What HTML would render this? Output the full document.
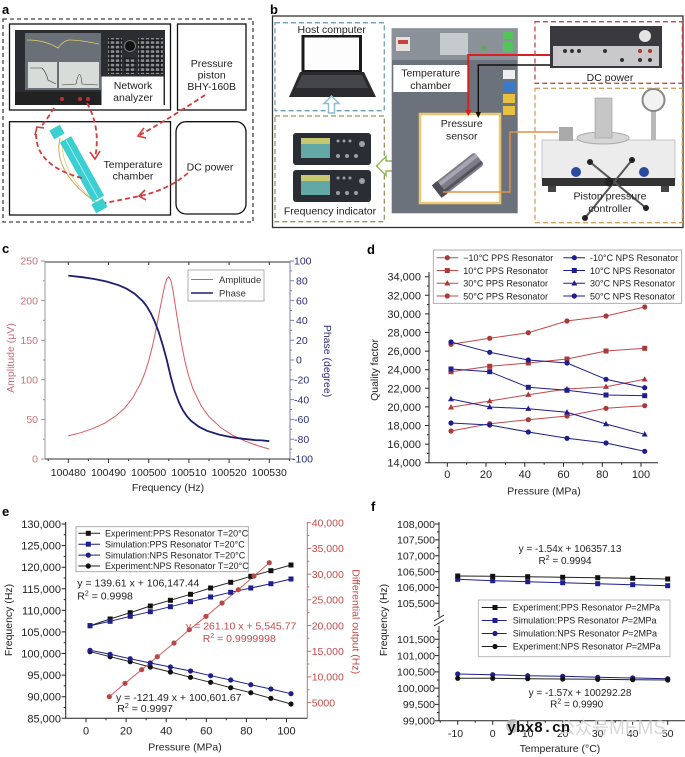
<!DOCTYPE html>
<html>
<head>
<meta charset="utf-8">
<style>
html,body{margin:0;padding:0;background:#fff;}
svg{display:block;font-family:"Liberation Sans",Arial,sans-serif;}
</style>
</head>
<body>
<svg width="685" height="757" viewBox="0 0 685 757" xmlns="http://www.w3.org/2000/svg">
<defs>
  <rect id="sq" x="-2.5" y="-2.5" width="5" height="5"/>
  <circle id="ci" r="2.6"/>
  <path id="tr" d="M0,-3.2 L3,2.2 L-3,2.2Z"/>
  <pattern id="keys" x="0" y="0" width="5" height="4.5" patternUnits="userSpaceOnUse">
    <rect x="0" y="0" width="5" height="4.5" fill="#1c1c1e"/>
    <rect x="0.8" y="0.8" width="3.4" height="2.6" fill="#8a8d92"/>
  </pattern>
</defs>
<rect width="685" height="757" fill="#fff"/>

<!-- ================= PANEL A ================= -->
<text x="2" y="14" font-size="13" font-weight="bold">a</text>
<rect x="3" y="19" width="250" height="203" fill="none" stroke="#444" stroke-width="1.3" stroke-dasharray="4,3"/>
<rect x="9.5" y="24" width="161" height="86" fill="#fff" stroke="#111" stroke-width="1.3"/>
<!-- analyzer photo -->
<rect x="15" y="30" width="150" height="75" fill="#2c2d30"/>
<rect x="25" y="33" width="76" height="57" fill="#6a7078"/>
<path d="M27 40 Q45 40 58 48 Q64 40 70 40 Q80 40 99 44" fill="none" stroke="#e8d060" stroke-width="0.8"/>
<rect x="28" y="62" width="29" height="26" fill="#d8dcd8"/>
<rect x="59" y="62" width="40" height="26" fill="#d8dcd8"/>
<path d="M30 68 L42 68 Q46 72 48 80 L56 84" fill="none" stroke="#333" stroke-width="0.6"/>
<path d="M62 85 L76 84 Q80 65 82 84 L98 85" fill="none" stroke="#333" stroke-width="0.6"/>
<rect x="108" y="38" width="14" height="36" fill="url(#keys)"/>
<rect x="138" y="38" width="25" height="36" fill="url(#keys)"/>
<rect x="124" y="58" width="12" height="16" fill="url(#keys)"/>
<circle cx="130" cy="46" r="5.5" fill="#111" stroke="#777" stroke-width="1"/>
<rect x="15" y="92" width="87" height="13" fill="#222"/>
<circle cx="62" cy="99" r="2" fill="#c03030"/>
<circle cx="80" cy="99" r="2" fill="#c03030"/>
<circle cx="88" cy="99" r="2" fill="#c03030"/>
<rect x="101.5" y="76.5" width="62" height="28.5" fill="#fff"/>
<text x="133" y="89" font-size="10.5" text-anchor="middle" fill="#222">Network</text>
<text x="133" y="101" font-size="10.5" text-anchor="middle" fill="#222">analyzer</text>
<!-- pressure piston -->
<rect x="177.5" y="24" width="68.5" height="86" fill="#fff" stroke="#111" stroke-width="1.3"/>
<text x="211.7" y="67" font-size="10.5" text-anchor="middle" fill="#222">Pressure</text>
<text x="211.7" y="78.5" font-size="10.5" text-anchor="middle" fill="#222">piston</text>
<text x="211.7" y="90" font-size="10.5" text-anchor="middle" fill="#222">BHY-160B</text>
<!-- temperature chamber -->
<rect x="9.5" y="121.7" width="161" height="93.3" fill="#fff" stroke="#111" stroke-width="1.3"/>
<text x="133" y="168" font-size="10.5" text-anchor="middle" fill="#222">Temperature</text>
<text x="133" y="179.5" font-size="10.5" text-anchor="middle" fill="#222">chamber</text>
<!-- DC power -->
<rect x="176" y="121.7" width="70" height="92.3" rx="10" fill="#fff" stroke="#111" stroke-width="1.3"/>
<text x="210" y="170.5" font-size="10.5" text-anchor="middle" fill="#222">DC power</text>
<!-- cyan device -->
<path d="M60 138 Q52 172 98 204" fill="none" stroke="#c9a04a" stroke-width="0.9"/>
<path d="M62 138 Q60 176 100 205" fill="none" stroke="#e0c860" stroke-width="0.7"/>
<g transform="rotate(-29 82 169)">
  <rect x="75.5" y="135" width="13" height="68" fill="#3ccfd2"/>
  <line x1="82" y1="136" x2="82" y2="202" stroke="#b8f4f4" stroke-width="0.8"/>
</g>
<rect x="51" y="127" width="12" height="10" fill="#3ccfd2" transform="rotate(-29 57 132)"/>
<rect x="93" y="201" width="13" height="10" fill="#3ccfd2" transform="rotate(-29 99 206)"/>
<!-- red dashed arrows -->
<g fill="none" stroke="#d43c3c" stroke-width="1.8" stroke-dasharray="5,3">
  <path d="M54 108 Q48 118 40 128"/>
  <path d="M36 134 Q36 166 82 178"/>
  <path d="M87 103 Q101 128 95 158"/>
  <path d="M205 95 Q175 115 140 135"/>
  <path d="M188 173 Q168 190 140 196 L105 203"/>
</g>
<g fill="none" stroke="#d43c3c" stroke-width="1.6">
  <path d="M35 135 L37 127 L44 128"/>
  <path d="M90 152 L95 159 L100 151"/>
  <path d="M144 128 L138 136 L146 138"/>
  <path d="M145 190 L139 196 L146 200"/>
</g>

<!-- ================= PANEL B ================= -->
<text x="270" y="14" font-size="13" font-weight="bold">b</text>
<rect x="272.5" y="16" width="410.5" height="211.5" fill="#fff" stroke="#333" stroke-width="1.3"/>
<!-- host computer -->
<rect x="275" y="22.7" width="109.3" height="88" fill="none" stroke="#6f9fb8" stroke-width="1.3" stroke-dasharray="5,3"/>
<text x="331.7" y="33" font-size="10.5" text-anchor="middle" fill="#222">Host computer</text>
<rect x="301.5" y="35" width="60.5" height="37" fill="#1a1a1a"/>
<rect x="304.5" y="37.5" width="54.5" height="32.5" fill="#fdfdfd"/>
<path d="M300 72 L364 72 L376 97 L289 97Z" fill="#2a2a2e"/>
<path d="M302 75 L362 75 L368 88 L296 88Z" fill="#45464a"/>
<!-- up arrow -->
<path d="M328.5 113 L328.5 103.5 L324 103.5 L331.5 96 L339 103.5 L334.5 103.5 L334.5 113Z" fill="#fff" stroke="#8fbcd4" stroke-width="1.5"/>
<!-- frequency indicator -->
<rect x="275" y="116" width="109.3" height="105.7" fill="none" stroke="#8c9a60" stroke-width="1.3" stroke-dasharray="5,3"/>
<text x="330" y="214.5" font-size="10.5" text-anchor="middle" fill="#222">Frequency indicator</text>
<rect x="293" y="133" width="78" height="32" rx="3" fill="#2a2e34"/>
<rect x="301" y="138" width="29" height="20" fill="#62a8a6"/>
<rect x="301" y="138" width="29" height="6" fill="#c8c870"/>
<rect x="293" y="170" width="78" height="32" rx="3" fill="#2a2e34"/>
<rect x="301" y="175" width="29" height="20" fill="#62a8a6"/>
<rect x="301" y="175" width="29" height="6" fill="#c8c870"/>
<g fill="#9aa0a6">
  <circle cx="338" cy="141" r="1.5"/><circle cx="344" cy="141" r="1.5"/><circle cx="350" cy="141" r="1.5"/><circle cx="362" cy="144" r="3"/>
  <circle cx="338" cy="156" r="2"/><circle cx="347" cy="156" r="2"/><circle cx="356" cy="156" r="2"/>
  <circle cx="338" cy="178" r="1.5"/><circle cx="344" cy="178" r="1.5"/><circle cx="350" cy="178" r="1.5"/><circle cx="362" cy="181" r="3"/>
  <circle cx="338" cy="193" r="2"/><circle cx="347" cy="193" r="2"/><circle cx="356" cy="193" r="2"/>
</g>
<!-- left arrow -->
<path d="M433 161 L386 161 L386 156.5 L376.5 166 L386 175.5 L386 171 L433 171Z" fill="#fff" stroke="#90b858" stroke-width="1.5"/>
<!-- temperature chamber -->
<rect x="391.7" y="28.3" width="126" height="185" fill="#6b727c"/>
<rect x="391.7" y="28.3" width="126" height="31.7" fill="#8b9199"/>
<rect x="440" y="33" width="28" height="22" fill="#c5cacd"/>
<rect x="396" y="37" width="14" height="14" fill="#e8e0dc"/>
<rect x="398" y="40" width="10" height="4" fill="#c84040"/>
<rect x="503" y="32" width="10" height="7" fill="#52c45a"/>
<rect x="503" y="42" width="10" height="10" fill="#52c45a"/>
<circle cx="484" cy="48" r="2.5" fill="#5a5"/>
<rect x="503" y="70" width="12" height="9" fill="#eee"/>
<rect x="503" y="82" width="12" height="9" fill="#3a7ac8"/>
<rect x="503" y="94" width="12" height="9" fill="#e8c040"/>
<rect x="503" y="106" width="12" height="9" fill="#e8c040"/>
<rect x="393.3" y="65" width="75" height="27" fill="#fff"/>
<text x="430.7" y="76.5" font-size="10.5" text-anchor="middle" fill="#222">Temperature</text>
<text x="430.7" y="89" font-size="10.5" text-anchor="middle" fill="#222">chamber</text>
<rect x="420" y="114" width="80" height="89" fill="#fff" stroke="#ecc872" stroke-width="2.5"/>
<text x="461.7" y="127" font-size="10.5" text-anchor="middle" fill="#222">Pressure</text>
<text x="461.7" y="139.5" font-size="10.5" text-anchor="middle" fill="#222">sensor</text>
<g transform="rotate(-38 458 175)">
  <rect x="431" y="167" width="54" height="16" rx="3" fill="#7e7c88"/>
  <rect x="431" y="169" width="54" height="4" fill="#a8a6b2"/>
  <rect x="431" y="178" width="54" height="3" fill="#55535e"/>
  <rect x="431" y="167" width="7" height="16" fill="#4e4c56"/>
</g>
<!-- wires -->
<polyline points="443,192 510,192 510,132 558,132" fill="none" stroke="#e0904a" stroke-width="1.5"/>
<polyline points="468.3,114 468.3,55 658,55" fill="none" stroke="#d82020" stroke-width="2"/>
<polyline points="478.3,116 478.3,65 635,65" fill="none" stroke="#111" stroke-width="1.4"/>
<path d="M465 110 L468.3 116 L471.6 110Z" fill="#d82020"/>
<path d="M475.5 112 L478.3 118 L481 112Z" fill="#111"/>
<!-- DC power -->
<rect x="535" y="21.7" width="147.3" height="61.6" fill="none" stroke="#c84848" stroke-width="1.3" stroke-dasharray="5,3"/>
<rect x="550" y="26" width="112" height="42" fill="#3a3a3e"/>
<rect x="553" y="46" width="106" height="20" fill="#c9c9cb"/>
<circle cx="645" cy="36" r="6" fill="#e4e4e4"/>
<g fill="#333"><circle cx="565" cy="51" r="2"/><circle cx="572" cy="51" r="2"/><circle cx="579" cy="51" r="2"/><circle cx="605" cy="51" r="2"/><circle cx="622" cy="60" r="2"/><circle cx="640" cy="60" r="2"/><circle cx="650" cy="60" r="2"/></g>
<g fill="#b83030"><circle cx="640" cy="51" r="2"/><circle cx="650" cy="51" r="2"/></g>
<text x="610" y="81" font-size="10.5" text-anchor="middle" fill="#222">DC power</text>
<!-- piston controller -->
<rect x="535" y="88.3" width="147.3" height="134.4" fill="none" stroke="#d4a060" stroke-width="1.3" stroke-dasharray="5,3"/>
<rect x="542" y="140" width="133" height="40" fill="#ececec" stroke="#c4c4c4"/>
<rect x="542" y="178" width="133" height="8" fill="#333"/>
<rect x="548" y="186" width="8" height="6" fill="#444"/>
<rect x="661" y="186" width="8" height="6" fill="#444"/>
<ellipse cx="603" cy="138" rx="26" ry="6" fill="#d6d6d6" stroke="#aaa"/>
<rect x="595" y="98" width="17" height="40" fill="#c6c6c6" stroke="#999" stroke-width="0.6"/>
<rect x="651" y="110" width="5" height="30" fill="#b8b8b8"/>
<circle cx="653.5" cy="100" r="11" fill="#f2f2f2" stroke="#888" stroke-width="2"/>
<rect x="559" y="127" width="14" height="14" fill="#aaa"/>
<circle cx="576" cy="172" r="5" fill="#2a4aa0"/>
<circle cx="644" cy="172" r="5" fill="#2a4aa0"/>
<g stroke="#555" stroke-width="2">
  <line x1="585" y1="218" x2="632" y2="160"/>
  <line x1="590" y1="162" x2="646" y2="208"/>
</g>
<g fill="#222"><circle cx="632" cy="160" r="3"/><circle cx="590" cy="162" r="3"/><circle cx="646" cy="208" r="3"/><circle cx="585" cy="218" r="3"/><circle cx="609" cy="182" r="4.5"/></g>
<text x="610" y="199.5" font-size="10.5" text-anchor="middle" fill="#222">Piston pressure</text>
<text x="610" y="212" font-size="10.5" text-anchor="middle" fill="#222">controller</text>

<!-- ================= PANEL C ================= -->
<text x="2" y="253" font-size="13" font-weight="bold">c</text>
<line x1="45" y1="262" x2="290" y2="262" stroke="#333" stroke-width="1"/>
<line x1="45" y1="459" x2="290" y2="459" stroke="#333" stroke-width="1"/>
<line x1="45" y1="261" x2="45" y2="459" stroke="#999" stroke-width="1"/>
<line x1="290" y1="261" x2="290" y2="459" stroke="#8080a8" stroke-width="1"/>
<path d="M45 261h-4M45 300.6h-4M45 340.2h-4M45 379.8h-4M45 419.4h-4M45 459h-4M45 280.8h-2M45 320.4h-2M45 360h-2M45 399.6h-2M45 439.2h-2" stroke="#999" stroke-width="1"/>
<path d="M290 261h4M290 280.8h4M290 300.6h4M290 320.4h4M290 340.2h4M290 360h4M290 379.8h4M290 399.6h4M290 419.4h4M290 439.2h4M290 459h4M290 270.9h2M290 290.7h2M290 310.5h2M290 330.3h2M290 350.1h2M290 369.9h2M290 389.7h2M290 409.5h2M290 429.3h2M290 449.1h2" stroke="#8080a8" stroke-width="1"/>
<path d="M68.3 459v4M108.5 459v4M148.7 459v4M188.9 459v4M229.1 459v4M269.3 459v4M48.2 459v2M88.4 459v2M128.6 459v2M168.8 459v2M209 459v2M249.2 459v2M289.4 459v2M68.3 262v3M108.5 262v3M148.7 262v3M188.9 262v3M229.1 262v3M269.3 262v3" stroke="#333" stroke-width="1"/>
<g font-size="10.5" fill="#c77079" text-anchor="end">
  <text x="38" y="264.7">250</text><text x="38" y="304.3">200</text><text x="38" y="343.9">150</text><text x="38" y="383.5">100</text><text x="38" y="423.1">50</text><text x="38" y="462.7">0</text>
</g>
<g font-size="10.5" fill="#2b2b7a">
  <text x="294" y="264.7">100</text><text x="296" y="284.5">80</text><text x="296" y="304.3">60</text><text x="296" y="324.1">40</text><text x="296" y="343.9">20</text><text x="296" y="363.7">0</text><text x="294" y="383.5">-20</text><text x="294" y="403.3">-40</text><text x="294" y="423.1">-60</text><text x="294" y="442.9">-80</text><text x="292" y="462.7">-100</text>
</g>
<g font-size="10.5" fill="#222" text-anchor="middle">
  <text x="68.3" y="476">100480</text><text x="108.5" y="476">100490</text><text x="148.7" y="476">100500</text><text x="188.9" y="476">100510</text><text x="229.1" y="476">100520</text><text x="269.3" y="476">100530</text>
</g>
<text x="168" y="491" font-size="10.5" fill="#222" text-anchor="middle">Frequency (Hz)</text>
<text transform="translate(14,358) rotate(-90)" font-size="10.5" fill="#c77079" text-anchor="middle">Amplitude (μV)</text>
<text transform="translate(324,361) rotate(90)" font-size="10.5" fill="#2b2b7a" text-anchor="middle">Phase (degree)</text>
<polyline fill="none" stroke="#d9595f" stroke-width="1" points="68.3,435.9 80.4,432.8 92.4,428.7 104.5,423.3 116.5,415.4 124.6,408.2 132.6,398.0 140.7,383.3 144.7,373.3 148.7,360.8 152.7,345.2 156.7,326.1 160.8,304.5 164.8,285.2 166.8,279.1 168.8,276.8 170.8,280.2 172.8,289.4 176.8,315.3 180.9,340.8 184.9,361.2 188.9,376.7 192.9,388.7 201.0,405.5 209.0,416.7 221.1,427.9 233.1,435.5 245.2,441.1 257.2,445.5 269.3,449.1"/>
<polyline fill="none" stroke="#1e1e6e" stroke-width="1.8" points="68.3,275.6 82.4,277.2 94.4,279.0 106.5,281.5 118.6,285.2 126.6,288.7 134.6,293.7 142.7,301.1 146.7,306.3 150.7,313.0 154.7,321.5 158.8,332.3 162.8,345.3 166.8,360 170.8,377.0 174.8,391.4 178.9,402.3 182.9,410.3 186.9,416.2 190.9,420.7 199.0,426.8 207.0,430.8 219.1,434.6 231.1,437.1 243.2,438.8 255.2,440.1 262,440.4 269.3,441.2"/>
<rect x="188" y="270" width="76" height="31" fill="#fff" stroke="#999" stroke-width="0.8"/>
<line x1="191" y1="279.5" x2="213" y2="279.5" stroke="#d9595f" stroke-width="1"/>
<line x1="191" y1="293" x2="213" y2="293" stroke="#1e1e6e" stroke-width="1.6"/>
<text x="219" y="283" font-size="9.5" fill="#333">Amplitude</text>
<text x="219" y="296.5" font-size="9.5" fill="#333">Phase</text>

<!-- ================= PANEL D ================= -->
<text x="367" y="254" font-size="13" font-weight="bold">d</text>
<line x1="429" y1="272" x2="429" y2="462.7" stroke="#222" stroke-width="1"/>
<line x1="429" y1="462.7" x2="658" y2="462.7" stroke="#222" stroke-width="1"/>
<path d="M429 276.7h-4M429 295.3h-4M429 313.9h-4M429 332.5h-4M429 351.1h-4M429 369.7h-4M429 388.3h-4M429 406.9h-4M429 425.5h-4M429 444.1h-4M429 462.7h-4M429 286h-2M429 304.6h-2M429 323.2h-2M429 341.8h-2M429 360.4h-2M429 379h-2M429 397.6h-2M429 416.2h-2M429 434.8h-2M429 453.4h-2" stroke="#222" stroke-width="1"/>
<path d="M447.3 462.7v4M486 462.7v4M524.8 462.7v4M563.5 462.7v4M602.3 462.7v4M641 462.7v4M466.7 462.7v2M505.4 462.7v2M544.2 462.7v2M582.9 462.7v2M621.7 462.7v2" stroke="#222" stroke-width="1"/>
<g font-size="11" fill="#222" text-anchor="end">
  <text x="421" y="280.7">34,000</text><text x="421" y="299.3">32,000</text><text x="421" y="317.9">30,000</text><text x="421" y="336.5">28,000</text><text x="421" y="355.1">26,000</text><text x="421" y="373.7">24,000</text><text x="421" y="392.3">22,000</text><text x="421" y="410.9">20,000</text><text x="421" y="429.5">18,000</text><text x="421" y="448.1">16,000</text><text x="421" y="466.7">14,000</text>
</g>
<g font-size="11" fill="#222" text-anchor="middle">
  <text x="447.3" y="478">0</text><text x="486" y="478">20</text><text x="524.8" y="478">40</text><text x="563.5" y="478">60</text><text x="602.3" y="478">80</text><text x="641" y="478">100</text>
</g>
<text x="544" y="494.5" font-size="10.5" fill="#222" text-anchor="middle">Pressure (MPa)</text>
<text transform="translate(378,370) rotate(-90)" font-size="10.5" fill="#222" text-anchor="middle">Quality factor</text>
<!-- series d -->
<g fill="none" stroke-width="1">
  <polyline stroke="#c04a4a" points="451,344.3 489.7,338.3 528.3,332.7 567,321 606,316 644.7,307"/>
  <polyline stroke="#c04a4a" points="451,371.7 489.7,366.3 528.3,363 567,359 606,351 644.7,348.3"/>
  <polyline stroke="#c04a4a" points="451,407.3 489.7,401 528.3,394.7 567,389 606,386.7 644.7,379.3"/>
  <polyline stroke="#c04a4a" points="451,431 489.7,423.7 528.3,419.7 567,416 606,408.3 644.7,405.7"/>
  <polyline stroke="#1e1e8c" points="451,342 489.7,352.3 528.3,360 567,363 606,379.3 644.7,387.7"/>
  <polyline stroke="#1e1e8c" points="451,369 489.7,371.7 528.3,387.3 567,390.3 606,395 644.7,395.7"/>
  <polyline stroke="#1e1e8c" points="451,399 489.7,407 528.3,408.7 567,412.3 606,424 644.7,434.3"/>
  <polyline stroke="#1e1e8c" points="451,423 489.7,425 528.3,432 567,438.3 606,443 644.7,451.3"/>
</g>
<g fill="#a83a3a">
  <use href="#ci" x="451" y="344.3"/><use href="#ci" x="489.7" y="338.3"/><use href="#ci" x="528.3" y="332.7"/><use href="#ci" x="567" y="321"/><use href="#ci" x="606" y="316"/><use href="#ci" x="644.7" y="307"/>
  <use href="#sq" x="451" y="371.7"/><use href="#sq" x="489.7" y="366.3"/><use href="#sq" x="528.3" y="363"/><use href="#sq" x="567" y="359"/><use href="#sq" x="606" y="351"/><use href="#sq" x="644.7" y="348.3"/>
  <use href="#tr" x="451" y="407.3"/><use href="#tr" x="489.7" y="401"/><use href="#tr" x="528.3" y="394.7"/><use href="#tr" x="567" y="389"/><use href="#tr" x="606" y="386.7"/><use href="#tr" x="644.7" y="379.3"/>
  <use href="#ci" x="451" y="431"/><use href="#ci" x="489.7" y="423.7"/><use href="#ci" x="528.3" y="419.7"/><use href="#ci" x="567" y="416"/><use href="#ci" x="606" y="408.3"/><use href="#ci" x="644.7" y="405.7"/>
</g>
<g fill="#1e1e8c">
  <use href="#ci" x="451" y="342"/><use href="#ci" x="489.7" y="352.3"/><use href="#ci" x="528.3" y="360"/><use href="#ci" x="567" y="363"/><use href="#ci" x="606" y="379.3"/><use href="#ci" x="644.7" y="387.7"/>
  <use href="#sq" x="451" y="369"/><use href="#sq" x="489.7" y="371.7"/><use href="#sq" x="528.3" y="387.3"/><use href="#sq" x="567" y="390.3"/><use href="#sq" x="606" y="395"/><use href="#sq" x="644.7" y="395.7"/>
  <use href="#tr" x="451" y="399"/><use href="#tr" x="489.7" y="407"/><use href="#tr" x="528.3" y="408.7"/><use href="#tr" x="567" y="412.3"/><use href="#tr" x="606" y="424"/><use href="#tr" x="644.7" y="434.3"/>
  <use href="#ci" x="451" y="423"/><use href="#ci" x="489.7" y="425"/><use href="#ci" x="528.3" y="432"/><use href="#ci" x="567" y="438.3"/><use href="#ci" x="606" y="443"/><use href="#ci" x="644.7" y="451.3"/>
</g>
<!-- legend d -->
<rect x="433.3" y="250" width="248.4" height="53.3" fill="#fff" stroke="#999" stroke-width="0.8"/>
<g stroke-width="1">
  <line x1="436.7" y1="257.7" x2="458.3" y2="257.7" stroke="#c04a4a"/>
  <line x1="436.7" y1="270.5" x2="458.3" y2="270.5" stroke="#c04a4a"/>
  <line x1="436.7" y1="283.3" x2="458.3" y2="283.3" stroke="#c04a4a"/>
  <line x1="436.7" y1="296" x2="458.3" y2="296" stroke="#c04a4a"/>
  <line x1="563.3" y1="257.7" x2="585" y2="257.7" stroke="#1e1e8c"/>
  <line x1="563.3" y1="270.5" x2="585" y2="270.5" stroke="#1e1e8c"/>
  <line x1="563.3" y1="283.3" x2="585" y2="283.3" stroke="#1e1e8c"/>
  <line x1="563.3" y1="296" x2="585" y2="296" stroke="#1e1e8c"/>
</g>
<g fill="#a83a3a"><use href="#ci" x="447.3" y="257.7"/><use href="#sq" x="447.3" y="270.5"/><use href="#tr" x="447.3" y="283.3"/><use href="#ci" x="447.3" y="296"/></g>
<g fill="#1e1e8c"><use href="#ci" x="574.3" y="257.7"/><use href="#sq" x="574.3" y="270.5"/><use href="#tr" x="574.3" y="283.3"/><use href="#ci" x="574.3" y="296"/></g>
<g font-size="9" fill="#222">
  <text x="463.3" y="261">−10°C PPS Resonator</text>
  <text x="463.3" y="273.8">10°C PPS Resonator</text>
  <text x="463.3" y="286.6">30°C PPS Resonator</text>
  <text x="463.3" y="299.3">50°C PPS Resonator</text>
  <text x="590" y="261">-10°C NPS Resonator</text>
  <text x="590" y="273.8">10°C NPS Resonator</text>
  <text x="590" y="286.6">30°C NPS Resonator</text>
  <text x="590" y="299.3">50°C NPS Resonator</text>
</g>

<!-- ================= PANEL E ================= -->
<text x="2" y="516" font-size="13" font-weight="bold">e</text>
<line x1="65.7" y1="522" x2="65.7" y2="718.3" stroke="#222" stroke-width="1"/>
<line x1="65.7" y1="718.3" x2="307.3" y2="718.3" stroke="#222" stroke-width="1"/>
<line x1="307.3" y1="522" x2="307.3" y2="718.3" stroke="#b07a7a" stroke-width="1"/>
<path d="M65.7 524h-4M65.7 545.6h-4M65.7 567.2h-4M65.7 588.8h-4M65.7 610.4h-4M65.7 631.9h-4M65.7 653.5h-4M65.7 675.1h-4M65.7 696.7h-4M65.7 718.3h-4M65.7 534.8h-2M65.7 556.4h-2M65.7 578h-2M65.7 599.6h-2M65.7 621.1h-2M65.7 642.7h-2M65.7 664.3h-2M65.7 685.9h-2M65.7 707.5h-2" stroke="#222" stroke-width="1"/>
<path d="M307.3 522.7h4M307.3 548.4h4M307.3 574.1h4M307.3 599.8h4M307.3 625.5h4M307.3 651.2h4M307.3 676.9h4M307.3 702.6h4M307.3 535.5h2M307.3 561.2h2M307.3 586.9h2M307.3 612.6h2M307.3 638.3h2M307.3 664h2M307.3 689.7h2" stroke="#b07a7a" stroke-width="1"/>
<path d="M86 718.3v4M126.1 718.3v4M166.2 718.3v4M206.3 718.3v4M246.4 718.3v4M286.5 718.3v4M106 718.3v2M146.1 718.3v2M186.2 718.3v2M226.3 718.3v2M266.4 718.3v2" stroke="#222" stroke-width="1"/>
<g font-size="11" fill="#222" text-anchor="end">
  <text x="61" y="528">130,000</text><text x="61" y="549.6">125,000</text><text x="61" y="571.2">120,000</text><text x="61" y="592.8">115,000</text><text x="61" y="614.4">110,000</text><text x="61" y="635.9">105,000</text><text x="61" y="657.5">100,000</text><text x="61" y="679.1">95,000</text><text x="61" y="700.7">90,000</text><text x="61" y="722.3">85,000</text>
</g>
<g font-size="10.5" fill="#c44a4a">
  <text x="311.7" y="526.5">40,000</text><text x="311.7" y="552.2">35,000</text><text x="311.7" y="577.9">30,000</text><text x="311.7" y="603.6">25,000</text><text x="311.7" y="629.3">20,000</text><text x="311.7" y="655">15,000</text><text x="311.7" y="680.7">10,000</text><text x="311.7" y="706.4">5000</text>
</g>
<g font-size="11" fill="#222" text-anchor="middle">
  <text x="86" y="734.5">0</text><text x="126.1" y="734.5">20</text><text x="166.2" y="734.5">40</text><text x="206.3" y="734.5">60</text><text x="246.4" y="734.5">80</text><text x="286.5" y="734.5">100</text>
</g>
<text x="185" y="750.5" font-size="10.5" fill="#222" text-anchor="middle">Pressure (MPa)</text>
<text transform="translate(12,620) rotate(-90)" font-size="10.5" fill="#222" text-anchor="middle">Frequency (Hz)</text>
<text transform="translate(352.5,621.7) rotate(90)" font-size="10.5" fill="#c44a4a" text-anchor="middle">Differential output (Hz)</text>
<!-- series e -->
<g fill="none" stroke-width="1">
  <polyline stroke="#222" points="90,625.7 110.1,619 130.2,612.7 150.3,606 170.4,600.3 190.5,594.3 210.6,588 230.7,582.3 250.8,576.3 270.9,570.7 291,565"/>
  <polyline stroke="#1e1e8c" points="90,625.7 110.1,621.3 130.2,616.3 150.3,611.7 170.4,606.7 190.5,601.7 210.6,597 230.7,592.3 250.8,588 270.9,583.7 291,579"/>
  <polyline stroke="#1e1e8c" points="90,650.3 110.1,654.3 130.2,658.7 150.3,663 170.4,667 190.5,671 210.6,675.7 230.7,680 250.8,684.7 270.9,689 291,693.7"/>
  <polyline stroke="#222" points="90,651.7 110.1,656.7 130.2,661.7 150.3,667 170.4,672 190.5,677.3 210.6,682.3 230.7,687.7 250.8,692.7 270.9,698.3 291,704"/>
  <polyline stroke="#d06060" points="109.3,696.7 125,683.3 141.7,669.7 157.3,656.7 174,643 189.3,629.7 206,616.3 222,603 238.3,589.7 254,576 269.3,562.7"/>
</g>
<g fill="#111">
  <use href="#sq" x="90" y="625.7"/><use href="#sq" x="110.1" y="619"/><use href="#sq" x="130.2" y="612.7"/><use href="#sq" x="150.3" y="606"/><use href="#sq" x="170.4" y="600.3"/><use href="#sq" x="190.5" y="594.3"/><use href="#sq" x="210.6" y="588"/><use href="#sq" x="230.7" y="582.3"/><use href="#sq" x="250.8" y="576.3"/><use href="#sq" x="270.9" y="570.7"/><use href="#sq" x="291" y="565"/>
  <use href="#ci" x="90" y="651.7"/><use href="#ci" x="110.1" y="656.7"/><use href="#ci" x="130.2" y="661.7"/><use href="#ci" x="150.3" y="667"/><use href="#ci" x="170.4" y="672"/><use href="#ci" x="190.5" y="677.3"/><use href="#ci" x="210.6" y="682.3"/><use href="#ci" x="230.7" y="687.7"/><use href="#ci" x="250.8" y="692.7"/><use href="#ci" x="270.9" y="698.3"/><use href="#ci" x="291" y="704"/>
</g>
<g fill="#1e1e8c">
  <use href="#sq" x="90" y="625.7"/><use href="#sq" x="110.1" y="621.3"/><use href="#sq" x="130.2" y="616.3"/><use href="#sq" x="150.3" y="611.7"/><use href="#sq" x="170.4" y="606.7"/><use href="#sq" x="190.5" y="601.7"/><use href="#sq" x="210.6" y="597"/><use href="#sq" x="230.7" y="592.3"/><use href="#sq" x="250.8" y="588"/><use href="#sq" x="270.9" y="583.7"/><use href="#sq" x="291" y="579"/>
  <use href="#ci" x="90" y="650.3"/><use href="#ci" x="110.1" y="654.3"/><use href="#ci" x="130.2" y="658.7"/><use href="#ci" x="150.3" y="663"/><use href="#ci" x="170.4" y="667"/><use href="#ci" x="190.5" y="671"/><use href="#ci" x="210.6" y="675.7"/><use href="#ci" x="230.7" y="680"/><use href="#ci" x="250.8" y="684.7"/><use href="#ci" x="270.9" y="689"/><use href="#ci" x="291" y="693.7"/>
</g>
<g fill="#b84848">
  <use href="#ci" x="109.3" y="696.7"/><use href="#ci" x="125" y="683.3"/><use href="#ci" x="141.7" y="669.7"/><use href="#ci" x="157.3" y="656.7"/><use href="#ci" x="174" y="643"/><use href="#ci" x="189.3" y="629.7"/><use href="#ci" x="206" y="616.3"/><use href="#ci" x="222" y="603"/><use href="#ci" x="238.3" y="589.7"/><use href="#ci" x="254" y="576"/><use href="#ci" x="269.3" y="562.7"/>
</g>
<!-- legend e -->
<rect x="76" y="526.7" width="172.3" height="45" fill="#fff" stroke="#999" stroke-width="0.8"/>
<line x1="78.3" y1="533.3" x2="100" y2="533.3" stroke="#222"/>
<line x1="78.3" y1="544.2" x2="100" y2="544.2" stroke="#1e1e8c"/>
<line x1="78.3" y1="555.1" x2="100" y2="555.1" stroke="#1e1e8c"/>
<line x1="78.3" y1="566" x2="100" y2="566" stroke="#222"/>
<use href="#sq" x="88.3" y="533.3" fill="#111"/>
<use href="#sq" x="88.3" y="544.2" fill="#1e1e8c"/>
<use href="#ci" x="88.3" y="555.1" fill="#1e1e8c"/>
<use href="#ci" x="88.3" y="566" fill="#111"/>
<g font-size="9" fill="#222">
  <text x="105" y="536.5">Experiment:PPS Resonator T=20°C</text>
  <text x="105" y="547.4">Simulation:PPS Resonator T=20°C</text>
  <text x="105" y="558.3">Simulation:NPS Resonator T=20°C</text>
  <text x="105" y="569.2">Experiment:NPS Resonator T=20°C</text>
</g>
<!-- equations e -->
<g font-size="10.5" fill="#222">
  <text x="77.3" y="586.5">y = 139.61 x + 106,147.44</text>
  <text x="77.3" y="599.5">R<tspan dy="-4" font-size="7">2</tspan><tspan dy="4"> = 0.9998</tspan></text>
  <text x="116" y="701">y = -121.49 x + 100,601.67</text>
  <text x="117.3" y="712">R<tspan dy="-4" font-size="7">2</tspan><tspan dy="4"> = 0.9997</tspan></text>
</g>
<g font-size="10.5" fill="#c44a4a">
  <text x="186" y="629.5">y = 261.10 x + 5,545.77</text>
  <text x="202.7" y="642">R<tspan dy="-4" font-size="7">2</tspan><tspan dy="4"> = 0.9999998</tspan></text>
</g>

<!-- ================= PANEL F ================= -->
<text x="371" y="511" font-size="13" font-weight="bold">f</text>
<line x1="439" y1="522" x2="439" y2="617" stroke="#222" stroke-width="1"/>
<line x1="439" y1="626" x2="439" y2="720.7" stroke="#222" stroke-width="1"/>
<path d="M434 621 L444 615 M434 626 L444 620" stroke="#222" stroke-width="1"/>
<line x1="439" y1="720.7" x2="685" y2="720.7" stroke="#222" stroke-width="1"/>
<path d="M439 524h-4M439 539.9h-4M439 555.7h-4M439 571.6h-4M439 587.4h-4M439 603.3h-4M439 531.9h-2M439 547.8h-2M439 563.6h-2M439 579.5h-2M439 595.4h-2M439 611.2h-2M439 639.3h-4M439 655.6h-4M439 671.9h-4M439 688.1h-4M439 704.4h-4M439 720.7h-4M439 631.2h-2M439 647.4h-2M439 663.7h-2M439 680h-2M439 696.3h-2M439 712.5h-2" stroke="#222" stroke-width="1"/>
<path d="M457.7 720.7v4M492.7 720.7v4M527.7 720.7v4M562.7 720.7v4M597.7 720.7v4M632.7 720.7v4M667.7 720.7v4M440.2 720.7v2M475.2 720.7v2M510.2 720.7v2M545.2 720.7v2M580.2 720.7v2M615.2 720.7v2M650.2 720.7v2" stroke="#222" stroke-width="1"/>
<g font-size="10.5" fill="#222" text-anchor="end">
  <text x="435" y="527.8">108,000</text><text x="435" y="543.7">107,500</text><text x="435" y="559.5">107,000</text><text x="435" y="575.4">106,500</text><text x="435" y="591.2">106,000</text><text x="435" y="607.1">105,500</text>
  <text x="435" y="643.1">101,500</text><text x="435" y="659.4">101,000</text><text x="435" y="675.7">100,500</text><text x="435" y="691.9">100,000</text><text x="435" y="708.2">99,500</text><text x="435" y="724.5">99,000</text>
</g>
<g font-size="10.5" fill="#222" text-anchor="middle">
  <text x="455.5" y="737">-10</text><text x="492.7" y="737">0</text><text x="527.7" y="737">10</text><text x="562.7" y="737">20</text><text x="597.7" y="737">30</text><text x="632.7" y="737">40</text><text x="667.7" y="737">50</text>
</g>
<text x="560" y="752" font-size="10.5" fill="#222" text-anchor="middle">Temperature (°C)</text>
<text transform="translate(387,620) rotate(-90)" font-size="10.5" fill="#222" text-anchor="middle">Frequency (Hz)</text>
<!-- series f -->
<g fill="none" stroke-width="1">
  <polyline stroke="#222" points="457.7,576 492.7,576.3 527.7,576.7 562.7,577.3 597.7,577.7 632.7,578.3 667.7,579"/>
  <polyline stroke="#1e1e8c" points="457.7,579.3 492.7,580.7 527.7,581.7 562.7,582.7 597.7,583.7 632.7,584.7 667.7,585.7"/>
  <polyline stroke="#1e1e8c" points="457.7,674 492.7,674.7 527.7,675.7 562.7,676.3 597.7,677.3 632.7,678 667.7,678.7"/>
  <polyline stroke="#222" points="457.7,678.3 492.7,678.3 527.7,678.7 562.7,679 597.7,679.3 632.7,679.7 667.7,680"/>
</g>
<g fill="#1e1e8c">
  <use href="#sq" x="457.7" y="579.3"/><use href="#sq" x="492.7" y="580.7"/><use href="#sq" x="527.7" y="581.7"/><use href="#sq" x="562.7" y="582.7"/><use href="#sq" x="597.7" y="583.7"/><use href="#sq" x="632.7" y="584.7"/><use href="#sq" x="667.7" y="585.7"/>
  <use href="#ci" x="457.7" y="674"/><use href="#ci" x="492.7" y="674.7"/><use href="#ci" x="527.7" y="675.7"/><use href="#ci" x="562.7" y="676.3"/><use href="#ci" x="597.7" y="677.3"/><use href="#ci" x="632.7" y="678"/><use href="#ci" x="667.7" y="678.7"/>
</g>
<g fill="#111">
  <use href="#sq" x="457.7" y="576"/><use href="#sq" x="492.7" y="576.3"/><use href="#sq" x="527.7" y="576.7"/><use href="#sq" x="562.7" y="577.3"/><use href="#sq" x="597.7" y="577.7"/><use href="#sq" x="632.7" y="578.3"/><use href="#sq" x="667.7" y="579"/>
  <use href="#ci" x="457.7" y="678.3"/><use href="#ci" x="492.7" y="678.3"/><use href="#ci" x="527.7" y="678.7"/><use href="#ci" x="562.7" y="679"/><use href="#ci" x="597.7" y="679.3"/><use href="#ci" x="632.7" y="679.7"/><use href="#ci" x="667.7" y="680"/>
</g>
<!-- legend f -->
<rect x="478.3" y="600" width="191.7" height="56.7" fill="#fff" stroke="#aaa" stroke-width="0.8"/>
<line x1="481.7" y1="607.5" x2="506.7" y2="607.5" stroke="#222"/>
<line x1="481.7" y1="620.5" x2="506.7" y2="620.5" stroke="#1e1e8c"/>
<line x1="481.7" y1="633.5" x2="506.7" y2="633.5" stroke="#1e1e8c"/>
<line x1="481.7" y1="646.5" x2="506.7" y2="646.5" stroke="#222"/>
<use href="#sq" x="495" y="607.5" fill="#111"/>
<use href="#sq" x="495" y="620.5" fill="#1e1e8c"/>
<use href="#ci" x="495" y="633.5" fill="#1e1e8c"/>
<use href="#ci" x="495" y="646.5" fill="#111"/>
<g font-size="9" fill="#222">
  <text x="512.7" y="610.7">Experiment:PPS Resonator <tspan font-style="italic">P</tspan>=2MPa</text>
  <text x="512.7" y="623.7">Simulation:PPS Resonator <tspan font-style="italic">P</tspan>=2MPa</text>
  <text x="512.7" y="636.7">Simulation:NPS Resonator <tspan font-style="italic">P</tspan>=2MPa</text>
  <text x="512.7" y="649.7">Experiment:NPS Resonator <tspan font-style="italic">P</tspan>=2MPa</text>
</g>
<g font-size="10" fill="#222" text-anchor="middle">
  <text x="570" y="552">y = -1.54x + 106357.13</text>
  <text x="565" y="564">R<tspan dy="-4" font-size="7">2</tspan><tspan dy="4"> = 0.9994</tspan></text>
  <text x="580" y="696">y = -1.57x + 100292.28</text>
  <text x="576.7" y="707.5">R<tspan dy="-4" font-size="7">2</tspan><tspan dy="4"> = 0.9990</tspan></text>
</g>
<!-- watermark -->
<circle cx="513" cy="726" r="7" fill="#b8b8b8" opacity="0.8"/>
<text x="558" y="734" font-size="17" fill="#cfcfcf" font-family="'Liberation Sans','Noto Sans CJK SC',sans-serif" opacity="0.9">公众号</text>
<text x="609" y="734" font-size="19" fill="#d4d4d4" opacity="0.9">MEMS</text>
<text x="507" y="732" font-size="15" font-weight="bold" font-family="'Liberation Mono',monospace" fill="#111" stroke="#fff" stroke-width="0.6" paint-order="stroke">ybx8.cn</text>
</svg>
</body>
</html>
